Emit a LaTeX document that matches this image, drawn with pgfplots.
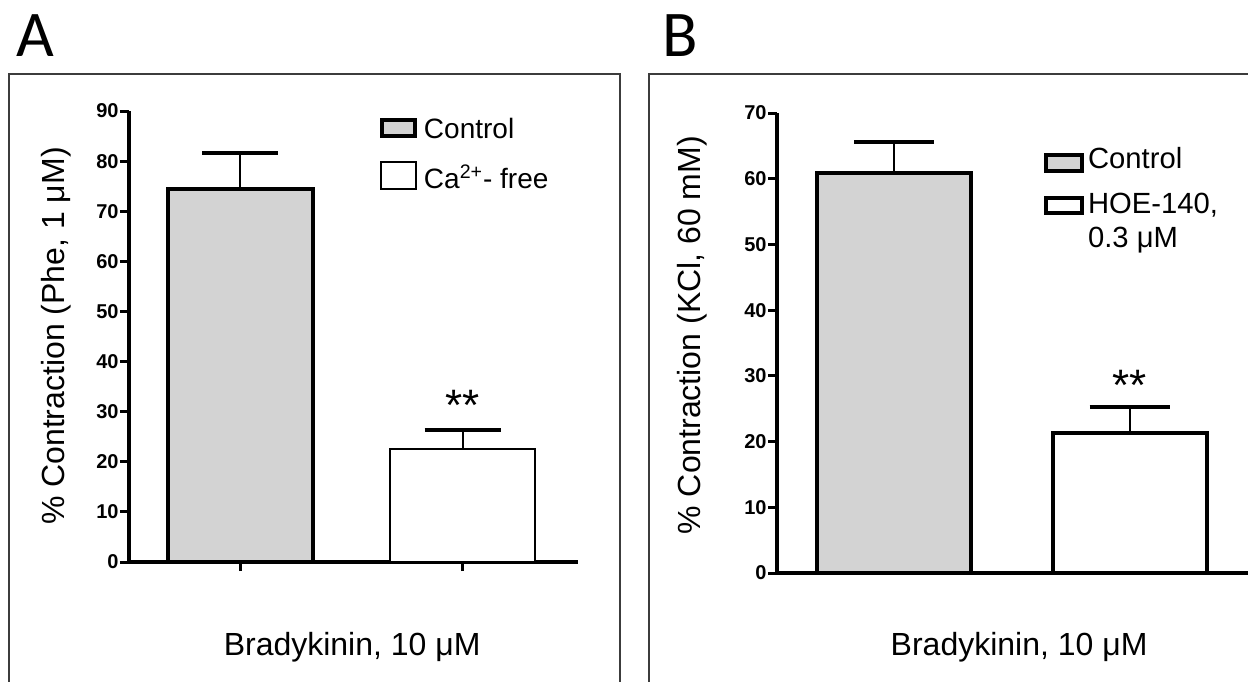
\documentclass[border=0pt]{standalone}
\usepackage{fontspec}
\setmainfont{Liberation Sans}
\newfontfamily\panelfont{Carlito}
\usepackage{pgfplots}
\pgfplotsset{compat=1.18}
\definecolor{barGray}{RGB}{211,211,211}
\definecolor{frameGray}{RGB}{60,60,60}

\pgfplotsset{
  prismstyle/.style={
    scale only axis,
    axis x line*=bottom, axis y line*=left,
    axis line style={line width=2pt, black, -},
    tick align=outside,
    major tick length=4.5pt,
    tick style={line width=1.5pt, black},
    /pgf/number format/assume math mode=true,
    yticklabel style={font=\bfseries\fontsize{10}{11}\selectfont, inner xsep=0.5pt},
    label style={font=\fontsize{16}{18}\selectfont},
    legend cell align=left,
    legend style={draw=none, fill=none, anchor=north west, inner sep=0pt,
      cells={anchor=base west}, nodes={inner sep=0pt}},
    clip=false,
  }
}

\begin{document}
\begin{tikzpicture}
\path[use as bounding box] (0,0) rectangle (624pt,340.5pt);
\begin{scope}
  \clip (0,0) rectangle (624pt,340.5pt);
  \draw[frameGray, line width=1pt] (4.5pt,303.5pt) rectangle (310pt,-10pt);
  \draw[frameGray, line width=1pt] (324.5pt,303.5pt) rectangle (640pt,-10pt);
\end{scope}
\node[anchor=base west, inner sep=0pt, font=\panelfont\fontsize{32.6}{36}\selectfont] at (8pt,312pt) {A};
\node[anchor=base west, inner sep=0pt, font=\panelfont\fontsize{32.6}{36}\selectfont] at (331pt,312pt) {B};

% Panel A
\begin{axis}[prismstyle,
  at={(64.5pt,59.5pt)}, anchor=south west,
  width=224.5pt, height=225.5pt,
  xmin=-0.502, xmax=1.52, ymin=0, ymax=90,
  xtick={0,1}, xticklabels={},
  ytick={0,10,...,90},
  xlabel={Bradykinin, 10 μM},
  xlabel style={at={(axis description cs:0.497,-0.2084)}, anchor=base},
  ylabel={\% Contraction (Phe, 1 μM)},
  ylabel style={at={(axis description cs:-0.1626,0.501)}, anchor=center, rotate=0},
  legend style={at={(axis description cs:0.559,0.985)},
    font=\fontsize{14}{17}\selectfont, column sep=3.3pt, row sep=10pt},
]
\addplot[ybar, bar width=72.5pt, bar shift=0pt, fill=barGray, draw=black, line width=2pt,
  error bars/.cd, y dir=plus, y explicit, error mark=|,
  error bar style={line width=1pt, black},
  error mark options={line width=2pt, mark size=19pt, black},
  /pgfplots/legend image code/.code={\draw[fill=barGray, draw=black, line width=2pt] (1pt,1pt) rectangle (17.5pt,9pt);}]
  coordinates {(0,74.5) +- (0,7.1)};
\addlegendentry{Control}
\addplot[ybar, bar width=72.5pt, bar shift=0pt, fill=white, draw=black, line width=1pt,
  error bars/.cd, y dir=plus, y explicit, error mark=|,
  error bar style={line width=1pt, black},
  error mark options={line width=2pt, mark size=19pt, black},
  /pgfplots/legend image code/.code={\draw[fill=white, draw=black, line width=1pt] (0.5pt,-0.5pt) rectangle (18pt,13pt);}]
  coordinates {(1,22.6) +- (0,3.7)};
\addlegendentry{Ca\textsuperscript{2+}- free}
\node[anchor=north, inner sep=0pt, font=\fontsize{22}{24}\selectfont] at (axis cs:1,34.3) {**};
\end{axis}

% Panel B
\begin{axis}[prismstyle,
  at={(388.5pt,54pt)}, anchor=south west,
  width=235.5pt, height=230pt,
  xmin=-0.497, xmax=1.503, ymin=0, ymax=70,
  xtick=\empty,
  ytick={0,10,...,70},
  xlabel={Bradykinin, 10 μM},
  xlabel style={at={(axis description cs:0.514,-0.1804)}, anchor=base},
  ylabel={\% Contraction (KCl, 60 mM)},
  ylabel style={at={(axis description cs:-0.180,0.517)}, anchor=center, rotate=0},
  legend style={at={(axis description cs:0.565,0.927)},
    font=\fontsize{14.6}{17}\selectfont, column sep=2.3pt, row sep=8.1pt},
]
\addplot[ybar, bar width=77pt, bar shift=0pt, fill=barGray, draw=black, line width=2pt,
  error bars/.cd, y dir=plus, y explicit, error mark=|,
  error bar style={line width=1pt, black},
  error mark options={line width=2pt, mark size=20pt, black},
  /pgfplots/legend image code/.code={\draw[fill=barGray, draw=black, line width=2pt] (1pt,-1.5pt) rectangle (19pt,6.5pt);}]
  coordinates {(0,60.9) +- (0,4.7)};
\addlegendentry{Control}
\addplot[ybar, bar width=77pt, bar shift=0pt, fill=white, draw=black, line width=2pt,
  error bars/.cd, y dir=plus, y explicit, error mark=|,
  error bar style={line width=1pt, black},
  error mark options={line width=2pt, mark size=20pt, black},
  /pgfplots/legend image code/.code={\draw[fill=white, draw=black, line width=2pt] (1pt,0pt) rectangle (19pt,7.5pt);}]
  coordinates {(1,21.3) +- (0,4.0)};
\addlegendentry{\begin{tabular}[t]{@{}l@{}}HOE-140,\\0.3 μM\end{tabular}}
\node[anchor=north, inner sep=0pt, font=\fontsize{22}{24}\selectfont] at (axis cs:1,30.9) {**};
\end{axis}
\end{tikzpicture}
\end{document}
